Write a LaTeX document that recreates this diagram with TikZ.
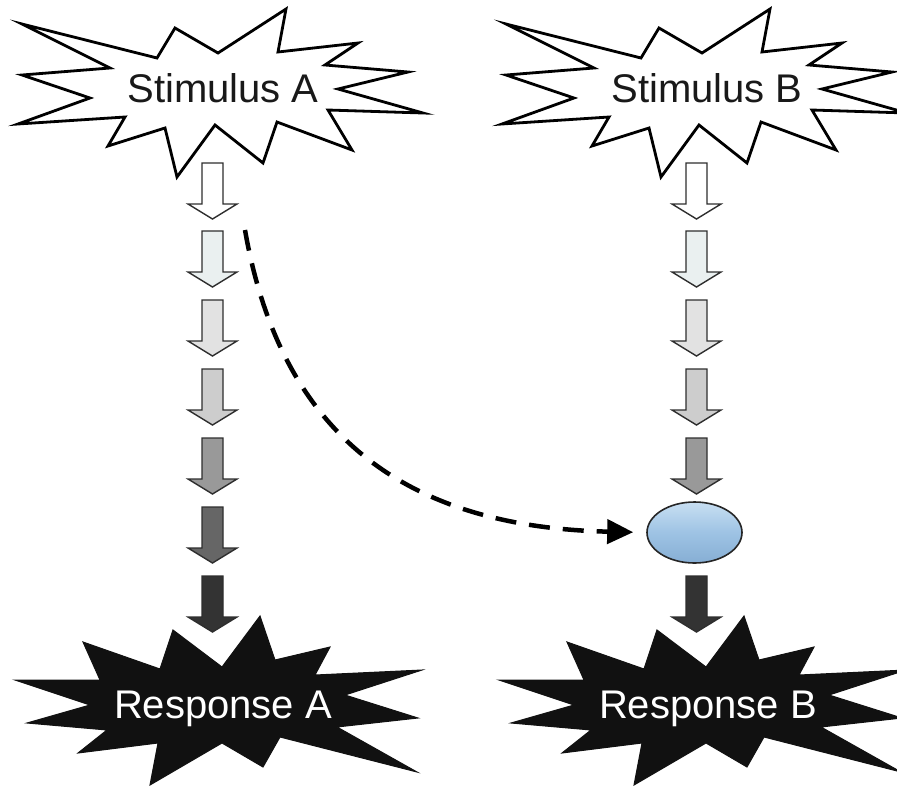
\documentclass[tikz,border=0pt]{standalone}
\usepackage{fontspec}
\setmainfont{Liberation Sans}
\usetikzlibrary{arrows.meta,shapes.geometric}
\definecolor{a1}{HTML}{FFFFFF}
\definecolor{a2}{HTML}{EAF0F0}
\definecolor{a3}{HTML}{E2E2E2}
\definecolor{a4}{HTML}{CDCDCD}
\definecolor{a5}{HTML}{999999}
\definecolor{a6}{HTML}{666666}
\definecolor{a7}{HTML}{333333}
\definecolor{burst}{HTML}{111111}
\definecolor{ellfill}{HTML}{9EC3E4}
\definecolor{ellhi}{HTML}{C8DFF2}
\definecolor{elllo}{HTML}{86AED4}
\tikzset{
  arrowline/.style={draw=a7!90!black, line width=1.4pt, line join=miter},
  stimburst/.style={draw=black, line width=2.8pt, fill=white, line join=miter},
  respburst/.style={draw=burst, line width=1pt, fill=burst, line join=miter},
  labeltext/.style={font=\fontsize{40}{48}\selectfont, anchor=base, inner sep=0pt},
  dasharrow/.style={line width=4.5pt, dash pattern=on 21pt off 13pt, shorten >=13pt,
    -{Triangle[length=26pt,width=24pt]}},
}
% block arrow: #1 = name, #2 = x centre, #3 = top y, #4 = fill
\newcommand\blockarr[4]{%
  \coordinate (#1) at (#2,#3);
  \draw[arrowline, fill=#4] ({#2-10.5},{#3}) -- ({#2+10.5},{#3}) -- ({#2+10.5},{#3+41})
    -- ({#2+24.5},{#3+41}) -- ({#2},{#3+56}) -- ({#2-24.5},{#3+41}) -- ({#2-10.5},{#3+41}) -- cycle;}
\newcommand\stimpoly{(22,24) -- (157,58) -- (175,28) -- (218,53) -- (286,9) -- (278,52) -- (358,43) -- (325,65) -- (408,72) -- (338,89) -- (423,113) -- (328,110) -- (352,150) -- (277,122) -- (263,163) -- (215,125) -- (177,177) -- (165,128) -- (108,146) -- (125,117) -- (18,124) -- (90,98) -- (22,75) -- (110,68) -- cycle}
\newcommand\resppoly{(83,642) -- (160,669) -- (173,630) -- (222,667) -- (260,616) -- (275,660) -- (330,647) -- (315,675) -- (422,670) -- (345,695) -- (418,718) -- (337,727) -- (417,772) -- (280,737) -- (263,767) -- (222,743) -- (150,785) -- (158,743) -- (78,753) -- (107,730) -- (27,723) -- (90,705) -- (15,680) -- (100,680) -- cycle}
\begin{document}
\begin{tikzpicture}[x=1pt,y=-1pt]
\useasboundingbox (0,0) rectangle (897,788);
% starbursts
\path[stimburst] \stimpoly;
\begin{scope}[xshift=484]
\path[stimburst] \stimpoly;
\end{scope}
\path[respburst] \resppoly;
\begin{scope}[xshift=484]
\path[respburst] \resppoly;
\end{scope}
% labels
\node[labeltext, text=black!90] (stimA) at (223,102) {Stimulus A};
\node[labeltext, text=black!90] (stimB) at (707,102) {Stimulus B};
\node[labeltext, text=white] (respA) at (223,718) {Response A};
\node[labeltext, text=white] (respB) at (708,718) {Response B};
% left column
\blockarr{la1}{212.5}{163}{a1}
\blockarr{la2}{212.5}{231}{a2}
\blockarr{la3}{212.5}{300}{a3}
\blockarr{la4}{212.5}{369}{a4}
\blockarr{la5}{212.5}{438}{a5}
\blockarr{la6}{212.5}{507}{a6}
\blockarr{la7}{212.5}{576}{a7}
% right column
\blockarr{ra1}{696.5}{163}{a1}
\blockarr{ra2}{696.5}{231}{a2}
\blockarr{ra3}{696.5}{300}{a3}
\blockarr{ra4}{696.5}{369}{a4}
\blockarr{ra5}{696.5}{438}{a5}
\blockarr{ra7}{696.5}{576}{a7}
% ellipse
\node[ellipse, draw=black!85, line width=1.6pt, minimum width=95pt, minimum height=61pt,
      top color=ellhi, bottom color=elllo, middle color=ellfill, inner sep=0pt] (ell) at (694.5,532.5) {};
% dashed connector
\coordinate (dstart) at (245,230);
\draw[dasharrow] (dstart) .. controls (280,430) and (400,527) .. (ell.west);
\end{tikzpicture}
\end{document}
